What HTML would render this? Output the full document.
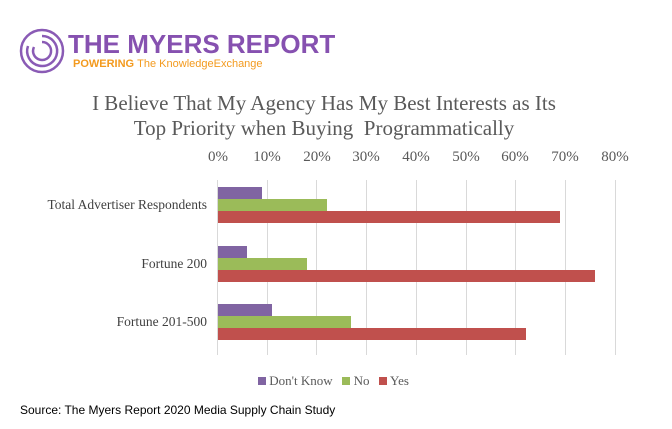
<!DOCTYPE html><html><head><style>
body{margin:0;width:672px;height:429px;background:#fff;position:relative;overflow:hidden;font-family:"Liberation Serif",serif}
.a{position:absolute}
.t{font-size:21px;color:#595959;text-align:center;width:672px;left:-12px;line-height:25px}
.tk{font-size:15px;color:#595959;width:50px;text-align:center;top:149px}
.g{width:1px;background:#d9d9d9;top:180px;height:175px}
.b{height:12px}
.lb{font-size:13.5px;color:#404040;right:465px;white-space:nowrap}
.p{background:#8064a2}.n{background:#9bbb59}.y{background:#c0504d}
</style></head><body>
<svg class="a" style="left:18px;top:27px" width="48" height="48" viewBox="0 0 48 48" fill="none" stroke="#8a5bb5" stroke-width="2.5">
<circle cx="24" cy="24" r="21"/><path d="M24 9a15 15 0 1 1-14 10"/><path d="M24 15a9 9 0 1 1-8 5"/></svg>
<div class="a" style="left:68px;top:29px;font-family:'Liberation Sans',sans-serif;font-weight:bold;font-size:26px;color:#8651b0">THE MYERS REPORT</div>
<div class="a" style="left:73px;top:58px;font-family:'Liberation Sans',sans-serif;font-size:11px;color:#f39a1e;font-weight:bold">POWERING <span style="font-weight:normal">The KnowledgeExchange</span></div>
<div class="a t" style="top:91px">I Believe That My Agency Has My Best Interests as Its<br>Top Priority when Buying&nbsp; Programmatically</div>
<div class="a tk" style="left:193px">0%</div><div class="a tk" style="left:242px">10%</div><div class="a tk" style="left:292px">20%</div><div class="a tk" style="left:341px">30%</div><div class="a tk" style="left:391px">40%</div><div class="a tk" style="left:441px">50%</div><div class="a tk" style="left:490px">60%</div><div class="a tk" style="left:540px">70%</div><div class="a tk" style="left:590px">80%</div>
<div class="a g" style="left:267px"></div><div class="a g" style="left:316px"></div><div class="a g" style="left:366px"></div><div class="a g" style="left:416px"></div><div class="a g" style="left:466px"></div><div class="a g" style="left:515px"></div><div class="a g" style="left:565px"></div><div class="a g" style="left:615px"></div>
<div class="a g" style="left:217px"></div>
<div class="a b p" style="left:218px;top:187px;width:44px"></div>
<div class="a b n" style="left:218px;top:199px;width:109px"></div>
<div class="a b y" style="left:218px;top:211px;width:342px"></div>
<div class="a b p" style="left:218px;top:246px;width:29px"></div>
<div class="a b n" style="left:218px;top:258px;width:89px"></div>
<div class="a b y" style="left:218px;top:270px;width:377px"></div>
<div class="a b p" style="left:218px;top:304px;width:54px"></div>
<div class="a b n" style="left:218px;top:316px;width:133px"></div>
<div class="a b y" style="left:218px;top:328px;width:308px"></div>
<div class="a lb" style="top:197px">Total Advertiser Respondents</div>
<div class="a lb" style="top:256px">Fortune 200</div>
<div class="a lb" style="top:314px">Fortune 201-500</div>
<div class="a" style="left:258px;top:373px;font-size:13px;color:#595959;white-space:nowrap">
<span style="display:inline-block;width:8px;height:8px" class="p"></span> Don't Know&nbsp;&nbsp;
<span style="display:inline-block;width:8px;height:8px" class="n"></span> No&nbsp;&nbsp;
<span style="display:inline-block;width:8px;height:8px" class="y"></span> Yes</div>
<div class="a" style="left:20px;top:403px;font-family:'Liberation Sans',sans-serif;font-size:12px;color:#000">Source: The Myers Report 2020 Media Supply Chain Study</div>
</body></html>
